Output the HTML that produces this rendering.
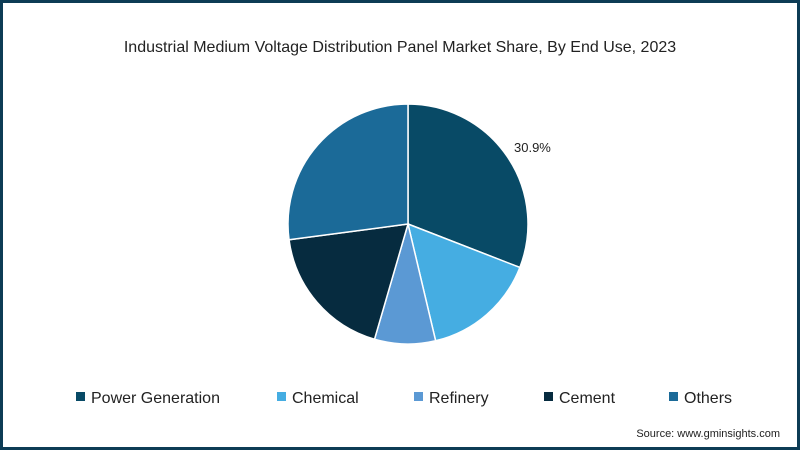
<!DOCTYPE html>
<html><head><meta charset="utf-8">
<style>
html,body{margin:0;padding:0;}
body{width:800px;height:450px;overflow:hidden;background:#fff;font-family:"Liberation Sans",sans-serif;}
#frame{position:absolute;left:0;top:0;width:794px;height:444px;border:3px solid #0d3c55;background:#fff;}
</style></head>
<body>
<div id="frame"></div>
<svg id="chart" width="800" height="450" style="position:absolute;left:0;top:0">
<text x="400" y="52" text-anchor="middle" font-size="16" fill="#222">Industrial Medium Voltage Distribution Panel Market Share, By End Use, 2023</text>
<g id="slices"></g>
<text x="514" y="152" font-size="13" fill="#222">30.9%</text>
<g id="legend"></g>
<text x="780" y="437" text-anchor="end" font-size="11" fill="#222">Source: www.gminsights.com</text>
</svg>
<script>
const categories = ["Power Generation","Chemical","Refinery","Cement","Others"];
const values = [30.9, 15.4, 8.2, 18.4, 27.1];
const colors = ["#084a66","#45ade2","#5b99d4","#062b3f","#1b6a98"];
const NS="http://www.w3.org/2000/svg";
const cx=408, cy=224, r=120;
const total=values.reduce((a,b)=>a+b,0);
const g=document.getElementById('slices');
let a0=0;
function pt(a){return [cx+r*Math.sin(a), cy-r*Math.cos(a)];}
values.forEach((v,i)=>{
  const a1=a0+v/total*2*Math.PI;
  const p0=pt(a0), p1=pt(a1);
  const large=(a1-a0)>Math.PI?1:0;
  const p=document.createElementNS(NS,'path');
  p.setAttribute('d',`M${cx},${cy}L${p0[0]},${p0[1]}A${r},${r} 0 ${large} 1 ${p1[0]},${p1[1]}Z`);
  p.setAttribute('fill',colors[i]);
  p.setAttribute('stroke','#fff');
  p.setAttribute('stroke-width','1.5');
  
  
  g.appendChild(p);
  a0=a1;
});
const lx=[76,277,414,544,669];
const lg=document.getElementById('legend');
categories.forEach((c,i)=>{
  const item=document.createElementNS(NS,'g');
  
  
  const s=document.createElementNS(NS,'rect');
  s.setAttribute('x',lx[i]); s.setAttribute('y',392); s.setAttribute('width',9); s.setAttribute('height',9);
  s.setAttribute('fill',colors[i]);
  const t=document.createElementNS(NS,'text');
  t.setAttribute('x',lx[i]+15); t.setAttribute('y',403); t.setAttribute('font-size','16'); t.setAttribute('fill','#222');
  t.textContent=c;
  item.appendChild(s); item.appendChild(t); lg.appendChild(item);
});
</script>
</body></html>
